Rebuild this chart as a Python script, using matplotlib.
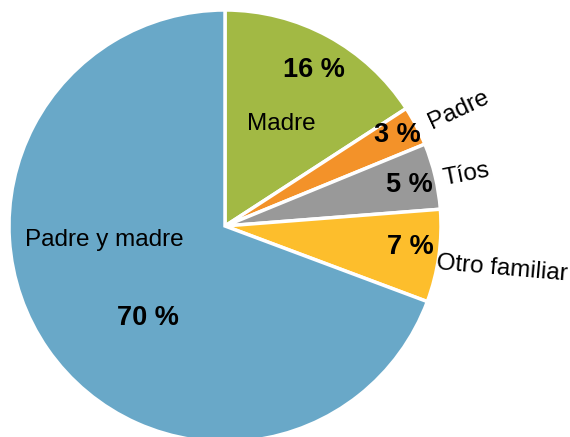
import matplotlib
matplotlib.use("Agg")
import matplotlib.pyplot as plt

# Data
labels = ["Madre", "Padre", "Tíos", "Otro familiar", "Padre y madre"]
values = [16, 3, 5, 7, 70]
colors = ["#A2B944", "#F39229", "#999999", "#FDBE2C", "#69A8C8"]

plt.rcParams["font.family"] = ["Liberation Sans", "DejaVu Sans"]

W, H = 570, 437
fig = plt.figure(figsize=(W / 100, H / 100), dpi=100)
ax = fig.add_axes([0, 0, 1, 1])

# layout in pixel coordinates (y measured from the top)
cx, cy, r = 225, 226, 216
ax.pie(values, colors=colors, startangle=90, counterclock=False,
       center=(cx, H - cy), radius=r, frame=True,
       wedgeprops=dict(edgecolor="white", linewidth=2.5))
ax.set_xlim(0, W)
ax.set_ylim(0, H)
ax.set_aspect("equal")
ax.axis("off")

# percentage labels (bold)
pct_pos = [(314, 70), (397, 135), (409, 185), (410, 247), (148, 318)]
for (x, y), v in zip(pct_pos, values):
    ax.text(x, H - y, f"{v} %", ha="center", va="center", fontsize=19.5,
            fontweight="bold", color="black")

# category labels
lab_pos = [(281, 124, 0), (459, 110, 25), (466, 175, 11), (502, 269, -5), (104, 240, 0)]
for (x, y, rot), lab in zip(lab_pos, labels):
    ax.text(x, H - y, lab, ha="center", va="center", fontsize=17.5, rotation=rot,
            rotation_mode="anchor", color="black")

fig.savefig("out.png", dpi=100)
